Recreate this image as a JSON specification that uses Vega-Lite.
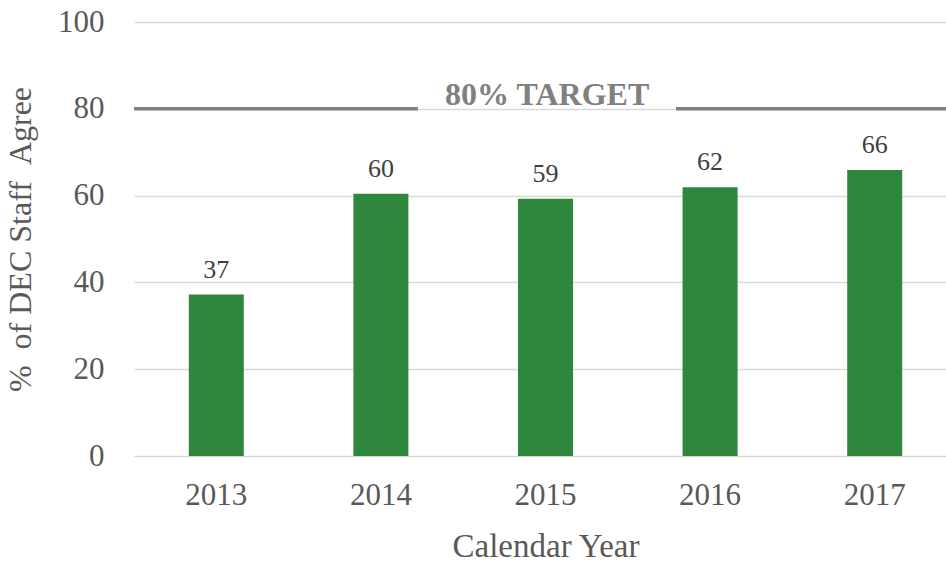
{
  "$schema": "https://vega.github.io/schema/vega-lite/v6.json",
  "width": 823,
  "height": 434,
  "autosize": "none",
  "padding": {"left": 134, "top": 22, "right": 0, "bottom": 110},
  "background": "white",
  "config": {
    "view": {"stroke": null},
    "font": "Liberation Serif"
  },
  "datasets": {
    "bars": [
      {"year": "2013", "pct": 37.2},
      {"year": "2014", "pct": 60.4},
      {"year": "2015", "pct": 59.3},
      {"year": "2016", "pct": 61.9},
      {"year": "2017", "pct": 65.9}
    ],
    "target": [{"target": 80, "label": "80% TARGET"}]
  },
  "layer": [
    {
      "data": {"name": "bars"},
      "mark": {"type": "bar", "color": "#2F873E", "width": 55},
      "encoding": {
        "x": {
          "field": "year", "type": "ordinal",
          "scale": {"paddingInner": 0, "paddingOuter": 0},
          "axis": {
            "title": "Calendar Year", "titleFont": "Liberation Serif", "titleFontSize": 33, "titleFontWeight": "normal",
            "titleColor": "#595959", "titlePadding": 20,
            "labelAngle": 0, "labelFontSize": 31, "labelColor": "#595959", "labelPadding": 24,
            "ticks": false, "domain": false, "grid": false
          }
        },
        "y": {
          "field": "pct", "type": "quantitative",
          "scale": {"domain": [0, 100]},
          "axis": {
            "title": "% \u00a0of DEC Staff \u00a0Agree", "titleFontSize": 32, "titleFontWeight": "normal",
            "titleColor": "#595959", "titlePadding": 20,
            "values": [0, 20, 40, 60, 80, 100],
            "labelFontSize": 31, "labelColor": "#595959", "labelPadding": 30,
            "ticks": false, "domain": false,
            "grid": true, "gridColor": "#d9d9d9", "gridWidth": 1.5
          }
        }
      }
    },
    {
      "data": {"name": "bars"},
      "mark": {"type": "text", "baseline": "bottom", "dy": -12, "fontSize": 26, "color": "#404040"},
      "encoding": {
        "x": {"field": "year", "type": "ordinal"},
        "y": {"field": "pct", "type": "quantitative"},
        "text": {"field": "pct", "type": "quantitative", "format": ".0f"}
      }
    },
    {
      "data": {"name": "target"},
      "mark": {"type": "rule", "color": "#808080", "strokeWidth": 3.5},
      "encoding": {
        "y": {"field": "target", "type": "quantitative"},
        "x": {"datum": "2013", "type": "ordinal", "bandPosition": 0},
        "x2": {"datum": "2014", "bandPosition": 0.725}
      }
    },
    {
      "data": {"name": "target"},
      "mark": {"type": "rule", "color": "#808080", "strokeWidth": 3.5},
      "encoding": {
        "y": {"field": "target", "type": "quantitative"},
        "x": {"datum": "2016", "type": "ordinal", "bandPosition": 0.293},
        "x2": {"datum": "2017", "bandPosition": 1}
      }
    },
    {
      "data": {"name": "target"},
      "mark": {"type": "text", "fontSize": 32, "fontWeight": "bold", "color": "#808080", "baseline": "middle", "dy": -14},
      "encoding": {
        "y": {"field": "target", "type": "quantitative"},
        "x": {"datum": "2015", "type": "ordinal", "bandPosition": 0.51},
        "text": {"field": "label"}
      }
    }
  ]
}
